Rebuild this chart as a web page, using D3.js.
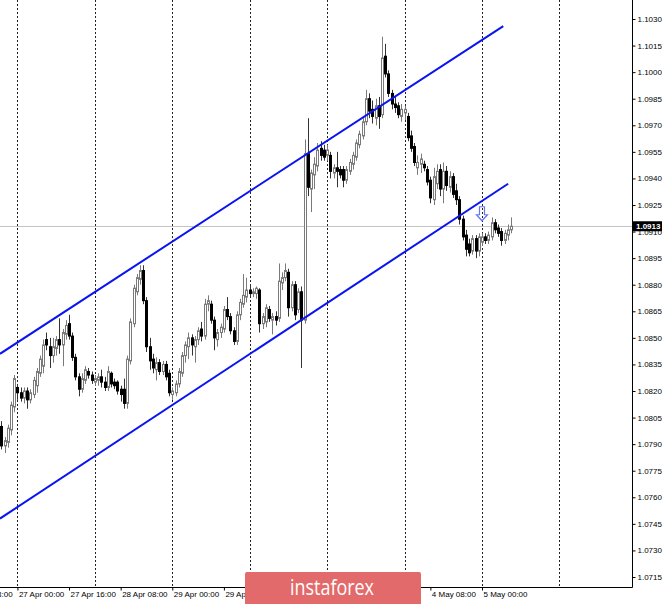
<!DOCTYPE html>
<html><head><meta charset="utf-8">
<script src="https://cdn.jsdelivr.net/npm/d3@7"></script>
<style>
html,body{margin:0;padding:0;background:#fff}
svg{display:block}
</style>
</head><body>
<svg id="c" width="665" height="604"></svg>
<script>
// ---------- DATA (EURUSD H1) ----------
const firstBar = -5; // bar index of first candle; bar 0 = 27 Apr 00:00
const opens = [1.0800,1.0789,1.0791,1.0798,1.0811,
1.0822,1.0819,1.0816,1.0820,1.0815,1.0818,1.0823,1.0830,1.0834,1.0849,1.0845,1.0840,1.0844,1.0849,1.0846,1.0852,1.0858,1.0851,1.0839,1.0828,1.0821,1.0826,1.0831,1.0829,
1.0825,1.0826,1.0828,1.0825,1.0822,1.0830,1.0825,1.0825,1.0821,1.0821,1.0813,1.0837,1.0858,1.0876,1.0883,1.0888,1.0871,1.0845,1.0838,1.0832,1.0836,1.0831,1.0835,1.0830,
1.0818,1.0819,1.0824,1.0830,1.0840,1.0845,1.0850,1.0845,1.0849,1.0855,1.0851,1.0869,1.0869,1.0860,1.0849,1.0853,1.0855,1.0866,1.0862,1.0854,1.0848,1.0863,1.0869,1.0873,
1.0877,1.0875,1.0875,1.0877,1.0858,1.0859,1.0866,1.0860,1.0862,1.0861,1.0881,1.0884,1.0887,1.0867,1.0880,1.0866,1.0876,1.0860,1.0954,1.0934,1.0942,1.0947,1.0957,1.0956,
1.0953,1.0953,1.0943,1.0946,1.0945,1.0945,1.0939,1.0944,1.0948,1.0952,1.0959,1.0964,1.0972,1.0985,1.0979,1.0974,1.0981,1.0976,1.1009,1.0999,1.0988,1.0982,1.0981,1.0975,
1.0977,1.0975,1.0964,1.0958,1.0946,1.0948,1.0948,1.0945,1.0939,1.0928,1.0937,1.0945,1.0934,1.0944,1.0935,1.0941,1.0933,1.0928,1.0917,1.0908,1.0903,1.0899,1.0906,1.0899,
1.0904,1.0907,1.0905,1.0907,1.0915,1.0912,1.0910,1.0905,1.0908,1.0911];
const highs = [1.0803,1.0794,1.0801,1.0814,1.0829,
1.0824,1.0822,1.0822,1.0822,1.0821,1.0828,1.0833,1.0840,1.0849,1.0853,1.0850,1.0850,1.0851,1.0861,1.0855,1.0860,1.0863,1.0853,1.0841,1.0830,1.0830,1.0834,1.0833,1.0831,
1.0829,1.0830,1.0832,1.0828,1.0834,1.0831,1.0827,1.0826,1.0823,1.0827,1.0840,1.0861,1.0880,1.0886,1.0891,1.0891,1.0873,1.0850,1.0841,1.0839,1.0838,1.0837,1.0837,1.0832,
1.0822,1.0826,1.0833,1.0842,1.0848,1.0853,1.0852,1.0851,1.0856,1.0859,1.0872,1.0874,1.0871,1.0862,1.0855,1.0858,1.0868,1.0873,1.0864,1.0856,1.0865,1.0872,1.0886,1.0884,
1.0880,1.0878,1.0879,1.0878,1.0864,1.0869,1.0868,1.0864,1.0865,1.0892,1.0887,1.0892,1.0889,1.0882,1.0882,1.0878,1.0879,1.0962,1.0974,1.0945,1.0952,1.0960,1.0961,1.0959,
1.0959,1.0955,1.0948,1.0955,1.0947,1.0947,1.0947,1.0951,1.0955,1.0962,1.0967,1.0974,1.0990,1.0988,1.0984,1.0985,1.0986,1.1020,1.1016,1.1001,1.0990,1.0986,1.0983,1.0982,
1.0981,1.0977,1.0967,1.0960,1.0953,1.0954,1.0950,1.0947,1.0941,1.0946,1.0948,1.0948,1.0949,1.0947,1.0944,1.0943,1.0937,1.0930,1.0919,1.0911,1.0906,1.0908,1.0908,1.0909,
1.0909,1.0909,1.0910,1.0918,1.0917,1.0914,1.0912,1.0911,1.0914,1.0918];
const lows = [1.0787,1.0785,1.0788,1.0795,1.0808,
1.0815,1.0814,1.0813,1.0810,1.0813,1.0816,1.0819,1.0828,1.0830,1.0843,1.0833,1.0836,1.0840,1.0841,1.0834,1.0849,1.0849,1.0837,1.0826,1.0817,1.0819,1.0824,1.0827,1.0824,
1.0823,1.0823,1.0822,1.0820,1.0820,1.0822,1.0821,1.0818,1.0814,1.0810,1.0810,1.0835,1.0856,1.0874,1.0880,1.0869,1.0842,1.0832,1.0830,1.0826,1.0829,1.0829,1.0826,1.0817,
1.0815,1.0817,1.0822,1.0828,1.0836,1.0838,1.0840,1.0836,1.0846,1.0848,1.0849,1.0865,1.0858,1.0843,1.0845,1.0850,1.0853,1.0860,1.0852,1.0846,1.0846,1.0860,1.0867,1.0870,
1.0873,1.0873,1.0872,1.0853,1.0855,1.0856,1.0859,1.0852,1.0857,1.0859,1.0877,1.0882,1.0862,1.0865,1.0860,1.0864,1.0833,1.0858,1.0930,1.0921,1.0934,1.0944,1.0950,1.0950,
1.0950,1.0940,1.0940,1.0935,1.0940,1.0935,1.0937,1.0942,1.0945,1.0950,1.0957,1.0962,1.0970,1.0974,1.0971,1.0970,1.0968,1.0974,1.0997,1.0986,1.0979,1.0977,1.0974,1.0972,
1.0973,1.0961,1.0955,1.0947,1.0942,1.0943,1.0944,1.0936,1.0926,1.0925,1.0934,1.0930,1.0926,1.0933,1.0932,1.0929,1.0925,1.0914,1.0905,1.0896,1.0896,1.0897,1.0895,1.0896,
1.0902,1.0903,1.0903,1.0905,1.0909,1.0907,1.0902,1.0903,1.0905,1.0909];
const closes = [1.0789,1.0792,1.0799,1.0812,1.0827,
1.0819,1.0816,1.0820,1.0815,1.0819,1.0826,1.0831,1.0838,1.0846,1.0846,1.0840,1.0845,1.0849,1.0846,1.0853,1.0857,1.0851,1.0839,1.0828,1.0821,1.0827,1.0832,1.0829,1.0826,
1.0827,1.0828,1.0825,1.0822,1.0831,1.0824,1.0823,1.0820,1.0818,1.0813,1.0838,1.0859,1.0878,1.0884,1.0888,1.0871,1.0845,1.0837,1.0833,1.0836,1.0831,1.0835,1.0828,1.0819,
1.0820,1.0824,1.0831,1.0840,1.0846,1.0850,1.0846,1.0849,1.0854,1.0851,1.0869,1.0871,1.0860,1.0850,1.0853,1.0856,1.0866,1.0862,1.0854,1.0848,1.0863,1.0870,1.0874,1.0877,
1.0875,1.0876,1.0878,1.0858,1.0862,1.0867,1.0861,1.0862,1.0860,1.0882,1.0884,1.0888,1.0867,1.0880,1.0863,1.0876,1.0860,1.0954,1.0935,1.0943,1.0948,1.0956,1.0953,1.0952,
1.0956,1.0944,1.0946,1.0944,1.0942,1.0939,1.0945,1.0949,1.0953,1.0960,1.0965,1.0972,1.0985,1.0978,1.0975,1.0981,1.0975,1.1008,1.0999,1.0988,1.0982,1.0980,1.0976,1.0979,
1.0979,1.0963,1.0957,1.0949,1.0949,1.0951,1.0946,1.0938,1.0929,1.0941,1.0944,1.0934,1.0944,1.0936,1.0941,1.0931,1.0928,1.0917,1.0907,1.0900,1.0898,1.0906,1.0899,1.0907,
1.0907,1.0905,1.0908,1.0915,1.0911,1.0909,1.0905,1.0909,1.0911,1.0913];

const priceTicks = [1.1030,1.1015,1.1000,1.0985,1.0970,1.0955,1.0940,1.0925,1.0910,1.0895,1.0880,1.0865,1.0850,1.0835,1.0820,1.0805,1.0790,1.0775,1.0760,1.0745,1.0730,1.0715];
// labels hidden behind the watermark in the reference are not listed
const timeTickBars = [-16,0,16,32,48,64,128,144];
const timeTickLabels = ["24 Apr 08:00","27 Apr 00:00","27 Apr 16:00","28 Apr 08:00","29 Apr 00:00","29 Apr 16:00","4 May 08:00","5 May 00:00"];
const separatorBars = [0,24,48,72,96,120,144,168];
const currentPrice = 1.0913;
const channelUpper = [{bar:-5.4, price:1.0841},{bar:150.6, price:1.1026}];
const channelLower = [{bar:-5.4, price:1.0748},{bar:152.1, price:1.0937}];
const arrowMark = {bar:144, price:1.0924};
const watermarkText = "instaforex";

// ---------- LAYOUT ----------
const plotR = 632, plotB = 587;
const x = d3.scaleLinear().domain([-5.4, 190.5]).range([0, plotR]);
const y = d3.scaleLinear().domain([1.0715, 1.1030]).range([577, 19]);
const FONT = "'Liberation Sans', Arial, sans-serif";
const crisp = v => Math.round(v) + 0.5;

const svg = d3.select('#c');
svg.append('rect').attr('width',665).attr('height',604).attr('fill','#fff');
svg.append('defs').append('clipPath').attr('id','plot')
  .append('rect').attr('x',0).attr('y',0).attr('width',plotR).attr('height',plotB);
const g = svg.append('g').attr('clip-path','url(#plot)');

// day separators
g.selectAll('line.sep').data(separatorBars).join('line')
  .attr('class','sep')
  .attr('x1',d=>crisp(x(d))).attr('x2',d=>crisp(x(d)))
  .attr('y1',0).attr('y2',plotB)
  .attr('stroke','#222').attr('stroke-width',1).attr('stroke-dasharray','2,2');

// current price line
g.append('line')
  .attr('x1',0).attr('x2',plotR)
  .attr('y1',crisp(y(currentPrice))).attr('y2',crisp(y(currentPrice)))
  .attr('stroke','#c4c4c4').attr('stroke-width',1);

// candles
const bars = opens.map((o,k)=>({bar:firstBar+k, o, h:highs[k], l:lows[k], c:closes[k]}));
const cg = g.append('g');
cg.selectAll('line.wick').data(bars).join('line')
  .attr('class','wick')
  .attr('x1',d=>crisp(x(d.bar))).attr('x2',d=>crisp(x(d.bar)))
  .attr('y1',d=>y(d.h)).attr('y2',d=>y(d.l))
  .attr('stroke',d=>d.c>=d.o ? '#7a7a7a' : '#333')
  .attr('stroke-width',1);
cg.selectAll('rect.body').data(bars).join('rect')
  .attr('class','body')
  .attr('x',d=>Math.round(x(d.bar))-0.5)
  .attr('width',2)
  .attr('y',d=>Math.min(y(d.o),y(d.c)))
  .attr('height',d=>Math.max(1,Math.abs(y(d.o)-y(d.c))))
  .attr('fill',d=>d.c>=d.o ? '#ffffff' : '#000')
  .attr('stroke',d=>d.c>=d.o ? '#7a7a7a' : '#000')
  .attr('stroke-width',1);

// channel lines
const line = d3.line().x(d=>x(d.bar)).y(d=>y(d.price));
[channelUpper, channelLower].forEach(ch=>{
  g.append('path').attr('d',line(ch)).attr('fill','none')
    .attr('stroke','#0a14f0').attr('stroke-width',2);
});

// arrow
const ax = x(arrowMark.bar), ay = y(arrowMark.price);
g.append('path')
  .attr('d',`M${ax-2.5},${ay} L${ax+2.5},${ay} L${ax+2.5},${ay+8} L${ax+5.5},${ay+8} L${ax},${ay+14} L${ax-5.5},${ay+8} L${ax-2.5},${ay+8} Z`)
  .attr('fill','none').attr('stroke','#6676f2').attr('stroke-width',1.2);

// frame
svg.append('line').attr('x1',crisp(plotR)).attr('x2',crisp(plotR)).attr('y1',0).attr('y2',plotB+0.5)
  .attr('stroke','#000');
svg.append('line').attr('x1',0).attr('x2',plotR+0.5).attr('y1',crisp(plotB)).attr('y2',crisp(plotB))
  .attr('stroke','#000');

// price axis
const yAxis = d3.axisRight(y).tickValues(priceTicks).tickFormat(d3.format('.4f')).tickSize(3).tickPadding(2);
const ya = svg.append('g').attr('transform',`translate(${crisp(plotR)},0)`).call(yAxis);
ya.select('.domain').remove();
ya.selectAll('text').attr('font-family',FONT).attr('font-size',8).attr('fill','#000');
ya.selectAll('line').attr('stroke','#000');

// current price box
const cy = y(currentPrice);
svg.append('rect').attr('x',633).attr('y',cy-5).attr('width',29).attr('height',10).attr('fill','#000');
svg.append('text').attr('x',636).attr('y',cy).attr('dy','0.35em')
  .attr('font-family',FONT).attr('font-size',8).attr('font-weight','bold').attr('fill','#fff').text(d3.format('.4f')(currentPrice));

// time axis
const lastBar = firstBar + opens.length - 1;
const tb = timeTickBars.filter(b=>b<=lastBar);
const xAxis = d3.axisBottom(x).tickValues(tb)
  .tickFormat(d=>timeTickLabels[timeTickBars.indexOf(d)]).tickSize(3).tickPadding(1);
const xa = svg.append('g').attr('transform',`translate(0,${crisp(plotB)})`).call(xAxis);
xa.select('.domain').remove();
xa.selectAll('.tick line').attr('stroke','#000');
xa.selectAll('text').attr('font-family',FONT).attr('font-size',8).attr('fill','#000')
  .attr('text-anchor','start').attr('dx',1);

// watermark
svg.append('rect').attr('x',245).attr('y',572).attr('width',176).attr('height',34).attr('rx',2)
  .attr('fill','#e36a6a');
svg.append('text').attr('x',290).attr('y',595)
  .attr('font-family',"'Open Sans', 'Liberation Sans', sans-serif").attr('font-size',22)
  .attr('fill','#fff').attr('textLength',84).attr('lengthAdjust','spacingAndGlyphs')
  .text(watermarkText);
</script>
</body></html>
